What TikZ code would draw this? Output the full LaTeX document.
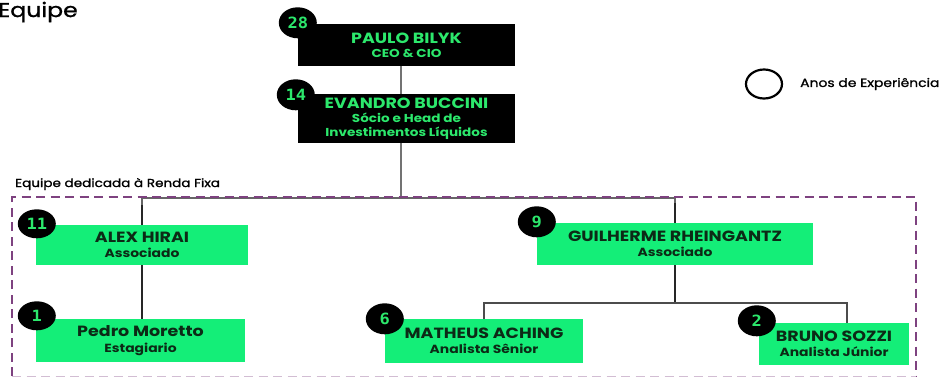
\documentclass[tikz,border=0pt]{standalone}
\usepackage{fontspec}
\setmainfont{Poppins}[FakeStretch=1.18]
\newfontfamily\medfont{Poppins}[FakeStretch=1.18,FakeBold=1.2]
\newfontfamily\numfont{DejaVu Sans Mono}[FakeStretch=1.1]
\usetikzlibrary{shapes.geometric,calc}
\definecolor{boxgreen}{HTML}{14EE78}
\definecolor{txtgreen}{HTML}{2CE86C}
\definecolor{darktxt}{HTML}{0C2A16}
\definecolor{borderpurple}{HTML}{7E4280}
\begin{document}
\begin{tikzpicture}[x=1pt,y=-1pt,
  blackbox/.style={rectangle,fill=black,text=txtgreen,align=center,inner sep=0pt,font=\fontsize{11.5}{14}\selectfont\bfseries},
  greenbox/.style={rectangle,fill=boxgreen,text=darktxt,align=center,inner sep=0pt,font=\fontsize{11.8}{15.5}\selectfont\bfseries},
  badge/.style={ellipse,fill=black,text=txtgreen,minimum width=38pt,minimum height=31pt,inner sep=0pt,font=\numfont\fontsize{15.5}{15.5}\selectfont\bfseries},
  conn/.style={draw=black!85,line width=1.3pt}]
\useasboundingbox (0,0) rectangle (944,378);
\fill[white] (0,0) rectangle (944,378);

% title
\node[anchor=west,inner sep=0pt,font=\medfont\fontsize{20}{20}\selectfont] (title) at (-2,12) {Equipe};

% boxes
\node[blackbox,minimum width=217pt,minimum height=42pt] (paulo) at (406.5,45)
  {{\fontsize{14.8}{15.5}\selectfont PAULO BILYK}\\CEO \& CIO};
\node[blackbox,minimum width=217pt,minimum height=49pt] (evandro) at (406.5,118.5)
  {{\fontsize{14.8}{14}\selectfont EVANDRO BUCCINI}\\S\'ocio e Head de\\Investimentos L\'iquidos};

\node[greenbox,minimum width=212pt,minimum height=40pt] (alex) at (142,245)
  {{\fontsize{14.8}{15.5}\selectfont ALEX HIRAI}\\Associado};
\node[greenbox,minimum width=209pt,minimum height=43pt] (pedro) at (140.5,340.5)
  {{\fontsize{14.8}{15.5}\selectfont Pedro Moretto}\\Estagiario};
\node[greenbox,minimum width=276pt,minimum height=42pt] (guil) at (675,244)
  {{\fontsize{14.8}{15.5}\selectfont GUILHERME RHEINGANTZ}\\Associado};
\node[greenbox,minimum width=198pt,minimum height=44pt] (matheus) at (484,341)
  {{\fontsize{14.8}{15.5}\selectfont MATHEUS ACHING}\\Analista S\^enior};
\node[greenbox,minimum width=150pt,minimum height=42pt] (bruno) at (834,344)
  {{\fontsize{14.8}{15.5}\selectfont BRUNO SOZZI}\\Analista J\'unior};

% connectors
\coordinate (j0) at (401,80);
\coordinate (j1) at (401,198);
\coordinate (j2) at (675,303);
\coordinate (jb) at (847,303);
\draw[conn,draw=black!55] (paulo.south -| j0) -- (evandro.north -| j0);
\draw[conn,draw=black!55] (evandro.south -| j1) -- (j1);
\draw[conn,draw=black!60] (alex.north) |- (j1) -| (guil.north);
\draw[conn] (alex.north) -- ++(0,-20);
\draw[conn] (guil.north) -- ++(0,-20);
\draw[conn] (alex.south) -- (alex.south |- pedro.north);
\draw[conn] (guil.south) -- (j2);
\draw[conn,draw=black!70] (matheus.north) |- (jb) -- (jb |- bruno.north);

% dashed frame
\coordinate (fa) at (12,376);
\coordinate (fb) at (12,197);
\coordinate (fc) at (916,197);
\coordinate (fd) at (916,376);
\draw[borderpurple,line width=2.8pt,dash pattern=on 9pt off 5.5pt] (fa) -- (fb) -- (fc) -- (fd);
\draw[borderpurple!35,line width=1pt,dash pattern=on 9pt off 5.5pt] (fa) -- (fd);
\node[anchor=west,inner sep=0pt,font=\medfont\fontsize{11.5}{12}\selectfont] (frametitle) at (15,184) {Equipe dedicada \`a Renda Fixa};

% badges
\node[badge] (b28) at ($(paulo.north west)+(0,-1)$) {28};
\node[badge] (b14) at ($(evandro.north west)+(-2,1)$) {14};
\node[badge,minimum height=29pt] (b11) at ($(alex.north west)+(1,-1)$) {11};
\node[badge,minimum height=29pt] (b1) at ($(pedro.north west)+(1,-3)$) {1};
\node[badge] (b9) at ($(guil.north west)+(0,-1)$) {9};
\node[badge] (b6) at ($(matheus.north west)+(0,0)$) {6};
\node[badge] (b2) at ($(bruno.north west)+(-2,-2)$) {2};

% legend
\node[ellipse,draw=black,line width=2.2pt,minimum width=36pt,minimum height=29pt,inner sep=0pt] (leg) at (764,84) {};
\node[anchor=west,inner sep=0pt,font=\medfont\fontsize{11.8}{12}\selectfont] (legtxt) at (800,84) {Anos de Experi\^encia};
\end{tikzpicture}
\end{document}
